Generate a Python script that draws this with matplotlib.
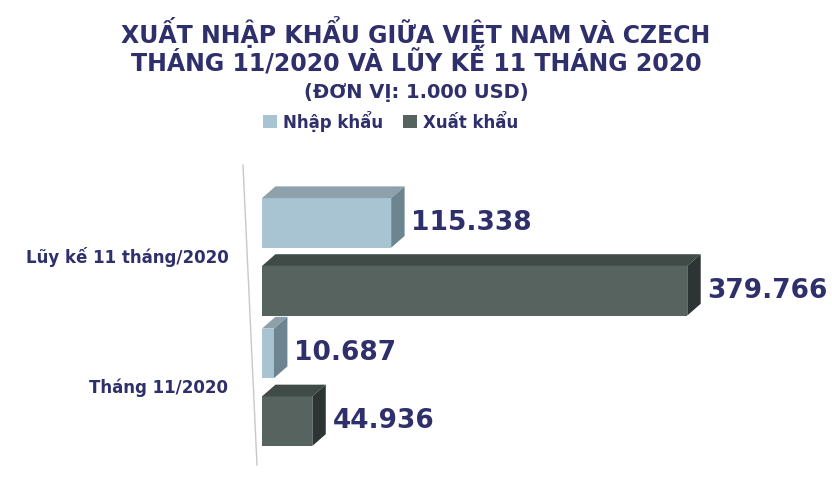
import matplotlib
matplotlib.use("Agg")
import matplotlib.pyplot as plt
from matplotlib.patches import Polygon, Rectangle
from matplotlib.lines import Line2D

categories = ["Lũy kế 11 tháng/2020", "Tháng 11/2020"]
nhap_khau = [115.338, 10.687]
xuat_khau = [379.766, 44.936]
series_names = ["Nhập khẩu", "Xuất khẩu"]

navy = "#2f2f6b"
col_nhap = ("#a8c3d1", "#8ea1ab", "#6d8590")
col_xuat = ("#56635f", "#404b48", "#2c3533")

fig = plt.figure(figsize=(8.32, 4.94), dpi=100)
ax = fig.add_axes([262/832, 35/494, 570/832, 300/494])
ax.set_xlim(0, 509)
ax.set_ylim(1.55, -0.75)
ax.axis("off")

h = 0.38
dx, dy = 12, 0.09

def bar3d(v, yc, cols):
    top, bot = yc - h/2, yc + h/2
    ax.add_patch(Rectangle((0, top), v, h, fc=cols[0], ec="none"))
    ax.add_patch(Polygon([(0, top), (v, top), (v+dx, top-dy), (dx, top-dy)], fc=cols[1], ec="none"))
    ax.add_patch(Polygon([(v, top), (v+dx, top-dy), (v+dx, bot-dy), (v, bot)], fc=cols[2], ec="none"))

def fmt(v):
    return f"{v:.3f}"

for i in range(len(categories)):
    yn, yx = i - 0.26, i + 0.26
    bar3d(xuat_khau[i], yx, col_xuat)
    bar3d(nhap_khau[i], yn, col_nhap)
    ax.text(nhap_khau[i] + dx + 6, yn, fmt(nhap_khau[i]), color=navy,
            fontsize=19, fontweight="bold", va="center")
    ax.text(xuat_khau[i] + dx + 6, yx, fmt(xuat_khau[i]), color=navy,
            fontsize=19, fontweight="bold", va="center")
    ax.text(-30, i, categories[i], color=navy, fontsize=12, fontweight="bold",
            ha="right", va="center")

fig.add_artist(Line2D([243/832, 257/832], [1-165/494, 1-465/494], color="#c8c8c8", lw=1))

fig.text(0.5, 1-32/494, "XUẤT NHẬP KHẨU GIỮA VIỆT NAM VÀ CZECH", ha="center", va="center",
         fontsize=17, fontweight="bold", color=navy)
fig.text(0.5, 1-62/494, "THÁNG 11/2020 VÀ LŨY KẾ 11 THÁNG 2020", ha="center", va="center",
         fontsize=17, fontweight="bold", color=navy)
fig.text(0.5, 1-92/494, "(ĐƠN VỊ: 1.000 USD)", ha="center", va="center",
         fontsize=14, fontweight="bold", color=navy)

handles = [Rectangle((0, 0), 1, 1, fc=col_nhap[0]), Rectangle((0, 0), 1, 1, fc=col_xuat[0])]
leg = fig.legend(handles, series_names, loc="center", bbox_to_anchor=(0.47, 1-121/494), ncol=2,
                 frameon=False, fontsize=12, handlelength=0.8, handleheight=0.8,
                 columnspacing=1.2, handletextpad=0.4)
for t in leg.get_texts():
    t.set_color(navy)
    t.set_fontweight("bold")

fig.savefig("out.png", dpi=100)
